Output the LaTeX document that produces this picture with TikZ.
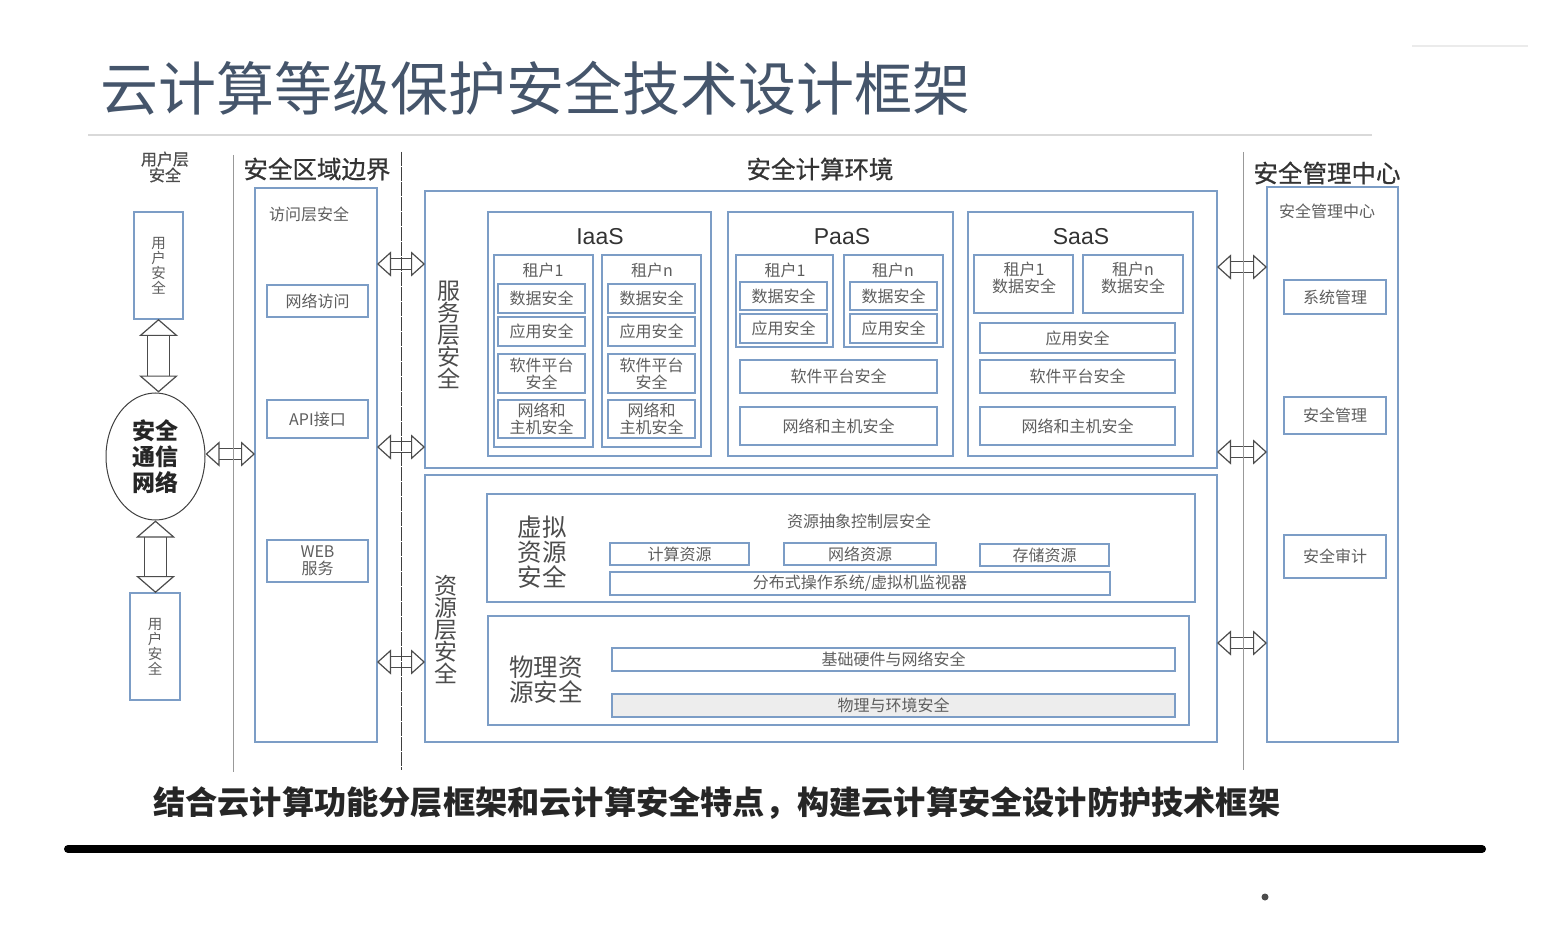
\documentclass[tikz,border=0pt]{standalone}
\usepackage{fontspec}
\setmainfont{Noto Sans CJK SC}
\newfontfamily\latinfont{Liberation Sans}
\newfontfamily\heavyfont[FakeBold=0.7]{Noto Sans CJK SC}
\usetikzlibrary{arrows.meta,shapes.geometric}
\definecolor{boxblue}{HTML}{7C9DC6}
\definecolor{titleblue}{HTML}{45556B}
\definecolor{textgray}{HTML}{5E5E5E}
\tikzset{
	bluebox/.style={draw=boxblue,line width=1.2pt,inner sep=0pt,outer sep=0pt,align=center,text=textgray,font=\fontsize{16}{17}\selectfont},
	smalltext/.style={inner sep=0pt,align=center,text=textgray,font=\fontsize{16}{17}\selectfont},
	headtext/.style={inner sep=0pt,align=center,text=black!80,font=\heavyfont\fontsize{24.5}{26}\selectfont},
	sidetext/.style={inner sep=0pt,align=center,text=black!70,font=\fontsize{24.5}{25}\selectfont},
	cloudtext/.style={inner sep=0pt,text=black!80,font=\latinfont\fontsize{23}{25}\selectfont},
	hollowarrow/.style={draw=black!70,line width=1.2pt,double=white,double distance=10pt,{Triangle[open,fill=white,length=14pt,width=25pt]}-{Triangle[open,fill=white,length=14pt,width=25pt]}},
	tallarrow/.style={draw=black!70,line width=1.2pt,double=white,double distance=21pt,{Triangle[open,fill=white,length=17pt,width=39pt]}-{Triangle[open,fill=white,length=17pt,width=39pt]}}
}
\begin{document}
\begin{tikzpicture}[x=1pt,y=-1pt]
	\useasboundingbox (0,0) rectangle (1549,949);
	\node[inner sep=0pt,anchor=west,text=titleblue,font=\fontsize{58}{60}\selectfont] (mainTitle) at (100,88) {云计算等级保护安全技术设计框架};
	\coordinate (ruleLeft) at (88,135);
	\coordinate (ruleRight) at (1372,135);
	\draw[black!15,line width=2pt] (ruleLeft) -- (ruleRight);
	\coordinate (markLeft) at (1412,46);
	\coordinate (markRight) at (1528,46);
	\draw[black!8,line width=1.5pt] (markLeft) -- (markRight);

	\node[smalltext,text=black!70,font=\heavyfont\fontsize{16}{16}\selectfont] (userHead) at (165,167) {用户层\\安全};
	\node[headtext] (borderHead) at (317,169) {安全区域边界};
	\node[headtext] (computeHead) at (820,169) {安全计算环境};
	\node[headtext] (mgmtHead) at (1327,173) {安全管理中心};

	\node[bluebox,minimum width=49,minimum height=107,font=\fontsize{14.5}{15}\selectfont] (userTop) at (158.5,265.5) {用\\户\\安\\全};
	\node[bluebox,minimum width=50,minimum height=107,font=\fontsize{14.5}{15}\selectfont] (userBot) at (155,646.5) {用\\户\\安\\全};
	\node[draw=black!75,line width=1pt,ellipse,minimum width=99,minimum height=127,inner sep=0pt,align=center,font=\bfseries\fontsize{23}{26}\selectfont,text=black!85] (commNet) at (155.5,456.5) {安全\\通信\\网络};

	\node[bluebox,minimum width=122,minimum height=554] (accessBox) at (316,465) {};
	\node[smalltext] (accessHead) at (309,214) {访问层安全};
	\node[bluebox,minimum width=101,minimum height=32] (netAccess) at (317.5,301) {网络访问};
	\node[bluebox,minimum width=101,minimum height=38] (apiPort) at (317.5,419) {API接口};
	\node[bluebox,minimum width=101,minimum height=42] (webService) at (317.5,561) {WEB\\服务};

	\node[bluebox,minimum width=792,minimum height=277] (serviceBox) at (821,329.5) {};
	\node[bluebox,minimum width=792,minimum height=267] (resourceBox) at (821,608.5) {};
	\node[sidetext,font=\fontsize{23}{22}\selectfont] (serviceHead) at (449,335) {服\\务\\层\\安\\全};
	\node[sidetext,font=\fontsize{23}{22}\selectfont] (resourceHead) at (446,629) {资\\源\\层\\安\\全};

	\node[bluebox,minimum width=223,minimum height=244] (iaasBox) at (599.5,334) {};
	\node[cloudtext] (iaasHead) at (600,237) {IaaS};
	\node[bluebox,minimum width=99,minimum height=192] (iaasOne) at (543.5,351) {};
	\node[smalltext] (iaasOneHead) at (543,270) {租户1};
	\node[bluebox,minimum width=87,minimum height=29] (iaasOneData) at (541.5,298.5) {数据安全};
	\node[bluebox,minimum width=87,minimum height=29] (iaasOneApp) at (541.5,331.5) {应用安全};
	\node[bluebox,minimum width=87,minimum height=39] (iaasOneSoft) at (541.5,373.5) {软件平台\\安全};
	\node[bluebox,minimum width=87,minimum height=38] (iaasOneNet) at (541.5,419) {网络和\\主机安全};
	\node[bluebox,minimum width=99,minimum height=192] (iaasN) at (651.5,351) {};
	\node[smalltext] (iaasNHead) at (652,270) {租户n};
	\node[bluebox,minimum width=87,minimum height=29] (iaasNData) at (651.5,298.5) {数据安全};
	\node[bluebox,minimum width=87,minimum height=29] (iaasNApp) at (651.5,331.5) {应用安全};
	\node[bluebox,minimum width=87,minimum height=39] (iaasNSoft) at (651.5,373.5) {软件平台\\安全};
	\node[bluebox,minimum width=87,minimum height=38] (iaasNNet) at (651.5,419) {网络和\\主机安全};

	\node[bluebox,minimum width=225,minimum height=244] (paasBox) at (840.5,334) {};
	\node[cloudtext] (paasHead) at (842,237) {PaaS};
	\node[bluebox,minimum width=97,minimum height=92] (paasOne) at (784.5,301) {};
	\node[smalltext] (paasOneHead) at (785,270) {租户1};
	\node[bluebox,minimum width=87,minimum height=28] (paasOneData) at (783.5,296) {数据安全};
	\node[bluebox,minimum width=87,minimum height=29] (paasOneApp) at (783.5,328.5) {应用安全};
	\node[bluebox,minimum width=99,minimum height=92] (paasN) at (893.5,301) {};
	\node[smalltext] (paasNHead) at (893,270) {租户n};
	\node[bluebox,minimum width=87,minimum height=28] (paasNData) at (893.5,296) {数据安全};
	\node[bluebox,minimum width=87,minimum height=29] (paasNApp) at (893.5,328.5) {应用安全};
	\node[bluebox,minimum width=197,minimum height=33] (paasSoft) at (838.5,376.5) {软件平台安全};
	\node[bluebox,minimum width=197,minimum height=38] (paasNet) at (838.5,426) {网络和主机安全};

	\node[bluebox,minimum width=225,minimum height=244] (saasBox) at (1080.5,334) {};
	\node[cloudtext] (saasHead) at (1081,237) {SaaS};
	\node[bluebox,minimum width=99,minimum height=58,anchor=north] (saasOne) at (1023.5,255) {};
	\node[smalltext] (saasOneText) at (1024,278) {租户1\\数据安全};
	\node[bluebox,minimum width=100,minimum height=58,anchor=north] (saasN) at (1133,255) {};
	\node[smalltext] (saasNText) at (1133,278) {租户n\\数据安全};
	\node[bluebox,minimum width=195,minimum height=30] (saasApp) at (1077.5,338) {应用安全};
	\node[bluebox,minimum width=195,minimum height=33] (saasSoft) at (1077.5,376.5) {软件平台安全};
	\node[bluebox,minimum width=195,minimum height=38] (saasNet) at (1077.5,426) {网络和主机安全};

	\node[bluebox,minimum width=708,minimum height=108] (virtBox) at (841,548) {};
	\node[sidetext] (virtHead) at (542,552) {虚拟\\资源\\安全};
	\node[smalltext] (ctrlHead) at (859,521) {资源抽象控制层安全};
	\node[bluebox,minimum width=139,minimum height=22] (calcRes) at (679.5,554) {计算资源};
	\node[bluebox,minimum width=152,minimum height=22] (netRes) at (860,554) {网络资源};
	\node[bluebox,minimum width=129,minimum height=22] (storeRes) at (1044.5,555) {存储资源};
	\node[bluebox,minimum width=500,minimum height=23] (distSys) at (860,583.5) {分布式操作系统/虚拟机监视器};

	\node[bluebox,minimum width=701,minimum height=109] (physBox) at (838.5,670.5) {};
	\node[sidetext] (physHead) at (546,680) {物理资\\源安全};
	\node[bluebox,minimum width=563,minimum height=23] (baseNet) at (893.5,659.5) {基础硬件与网络安全};
	\node[bluebox,fill=black!7,minimum width=563,minimum height=23] (physEnv) at (893.5,705.5) {物理与环境安全};

	\node[bluebox,minimum width=131,minimum height=555] (mgmtBox) at (1332.5,464.5) {};
	\node[smalltext] (mgmtTitle) at (1327,211) {安全管理中心};
	\node[bluebox,minimum width=102,minimum height=34] (sysMgmt) at (1335,297) {系统管理};
	\node[bluebox,minimum width=102,minimum height=37] (secMgmt) at (1335,415.5) {安全管理};
	\node[bluebox,minimum width=102,minimum height=43] (secAudit) at (1335,556.5) {安全审计};

	\coordinate (rowA) at (0,264);
	\coordinate (rowB) at (0,447);
	\coordinate (rowC) at (0,662);
	\coordinate (rowD) at (0,267);
	\coordinate (rowE) at (0,452);
	\coordinate (rowF) at (0,643);
	\coordinate (rowG) at (0,454);
	\draw[tallarrow] (userTop.south) -- (userTop.south |- commNet.north);
	\draw[tallarrow] (commNet.south) -- (commNet.south |- userBot.north);
	\draw[hollowarrow] (commNet.east |- rowG) -- (accessBox.west |- rowG);
	\draw[hollowarrow] (accessBox.east |- rowA) -- (serviceBox.west |- rowA);
	\draw[hollowarrow] (accessBox.east |- rowB) -- (serviceBox.west |- rowB);
	\draw[hollowarrow] (accessBox.east |- rowC) -- (resourceBox.west |- rowC);
	\draw[hollowarrow] (serviceBox.east |- rowD) -- (mgmtBox.west |- rowD);
	\draw[hollowarrow] (serviceBox.east |- rowE) -- (mgmtBox.west |- rowE);
	\draw[hollowarrow] (resourceBox.east |- rowF) -- (mgmtBox.west |- rowF);

	\coordinate (sepAtop) at (233,155);
	\coordinate (sepAbot) at (233,772);
	\coordinate (sepBtop) at (401,152);
	\coordinate (sepBbot) at (401,770);
	\coordinate (sepCtop) at (1243,152);
	\coordinate (sepCbot) at (1243,770);
	\draw[black!40,line width=.9pt] (sepAtop) -- (sepAbot);
	\draw[black!75,line width=.9pt,dash pattern=on 14pt off 1pt] (sepBtop) -- (sepBbot);
	\draw[black!40,line width=.9pt] (sepCtop) -- (sepCbot);

	\node[inner sep=0pt,anchor=west,text=black!85,font=\bfseries\fontsize{32.2}{34}\selectfont] (footText) at (153,803) {结合云计算功能分层框架和云计算安全特点^^^^ff0c构建云计算安全设计防护技术框架};
	\coordinate (barLeft) at (68,849);
	\coordinate (barRight) at (1482,849);
	\draw[black,line width=8pt,line cap=round] (barLeft) -- (barRight);
	\node[circle,fill=black!70,minimum size=7pt,inner sep=0pt] (pageDot) at (1265,897) {};
\end{tikzpicture}
\end{document}
